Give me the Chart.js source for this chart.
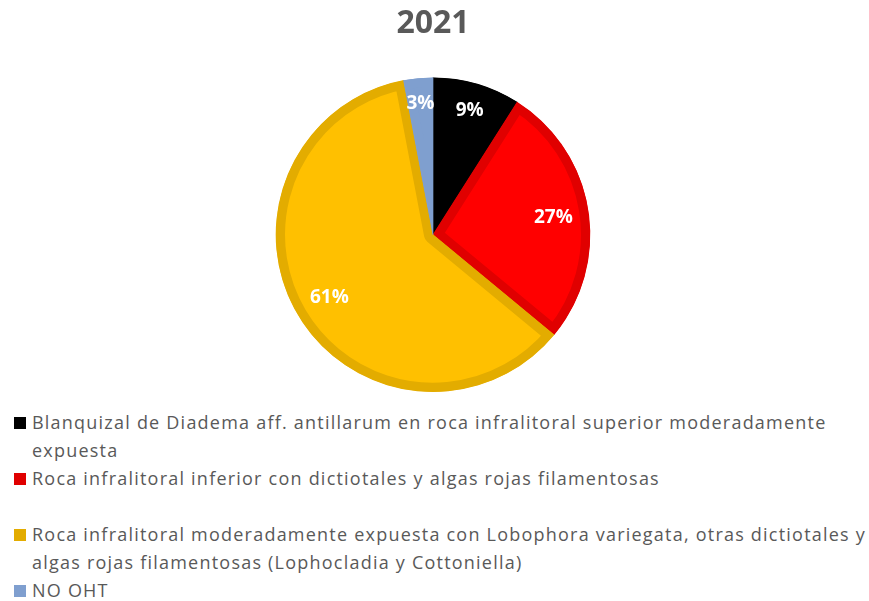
<!DOCTYPE html>
<html>
<head>
<meta charset="utf-8">
<script src="https://cdn.jsdelivr.net/npm/chart.js@4.4.1/dist/chart.umd.min.js"></script>
<style>
  html, body { margin: 0; padding: 0; background: #ffffff; }
  #wrap { position: relative; width: 869px; height: 601px; overflow: hidden; }
  #pie { position: absolute; left: 0; top: 0; }
  #legend {
    position: absolute; left: 14px; top: 408px;
    font-family: "Open Sans", sans-serif; font-size: 18px; line-height: 28px;
    letter-spacing: 1.22px;
    color: #595959;
  }
  .item { display: flex; align-items: flex-start; min-height: 56px; }
  .sw { width: 12px; height: 12px; margin-top: 9px; margin-right: 6px; flex: none; }
  .txt { width: 850px; }
</style>
</head>
<body>
<div id="wrap">
  <canvas id="pie" width="869" height="400"></canvas>
  <div id="legend"></div>
</div>
<script>
// Habitat shares for the year
const chartTitle = '2021';
const categories = [
  'Blanquizal de Diadema aff. antillarum en roca infralitoral superior moderadamente expuesta',
  'Roca infralitoral inferior con dictiotales y algas rojas filamentosas',
  'Roca infralitoral moderadamente expuesta con Lobophora variegata, otras dictiotales y algas rojas filamentosas (Lophocladia y Cottoniella)',
  'NO OHT'
];
const shares = [9, 27, 61, 3];

// Slice fill and edge colours
const fillColors = ['#000000', '#FF0000', '#FFC000', '#7F9FCF'];
const edgeColors = ['#000000', '#E00000', '#E3AC00', '#7F9FCF'];
// Where each percentage sits, as a fraction of the radius
const labelRadius = [0.835, 0.775, 0.765, 0.85];

const sliceLabels = {
  id: 'sliceLabels',
  afterDatasetsDraw(chart) {
    const ctx = chart.ctx;
    const meta = chart.getDatasetMeta(0);
    const values = chart.data.datasets[0].data;
    ctx.save();
    ctx.font = 'bold 19px "Open Sans", sans-serif';
    ctx.fillStyle = '#ffffff';
    ctx.textAlign = 'center';
    ctx.textBaseline = 'middle';
    meta.data.forEach((arc, i) => {
      const p = arc.getProps(['startAngle', 'endAngle', 'outerRadius', 'x', 'y'], true);
      const mid = (p.startAngle + p.endAngle) / 2;
      const r = p.outerRadius * labelRadius[i];
      ctx.fillText(values[i] + '%', p.x + Math.cos(mid) * r, p.y + Math.sin(mid) * r + 2);
    });
    ctx.restore();
  }
};

const chart = new Chart(document.getElementById('pie'), {
  type: 'pie',
  data: {
    labels: categories,
    datasets: [{
      data: shares,
      backgroundColor: fillColors,
      borderColor: edgeColors,
      borderWidth: 9,
      borderAlign: 'inner',
      hoverOffset: 0
    }]
  },
  options: {
    responsive: false,
    animation: false,
    events: [],
    layout: { padding: { top: 0, bottom: 8, left: 0, right: 3 } },
    plugins: {
      legend: { display: false },
      tooltip: { enabled: false },
      title: {
        display: true,
        text: chartTitle,
        color: '#595959',
        font: { family: '"Open Sans", sans-serif', size: 32, weight: 'bold' },
        padding: { top: 5, bottom: 34 }
      }
    }
  },
  plugins: [sliceLabels]
});

// Legend built from the chart's own labels and colours
const legendBox = document.getElementById('legend');
chart.data.labels.forEach((label, i) => {
  const item = document.createElement('div');
  item.className = 'item';
  const sw = document.createElement('span');
  sw.className = 'sw';
  sw.style.background = edgeColors[i];
  const txt = document.createElement('span');
  txt.className = 'txt';
  txt.textContent = label;
  item.appendChild(sw);
  item.appendChild(txt);
  legendBox.appendChild(item);
});
</script>
</body>
</html>
